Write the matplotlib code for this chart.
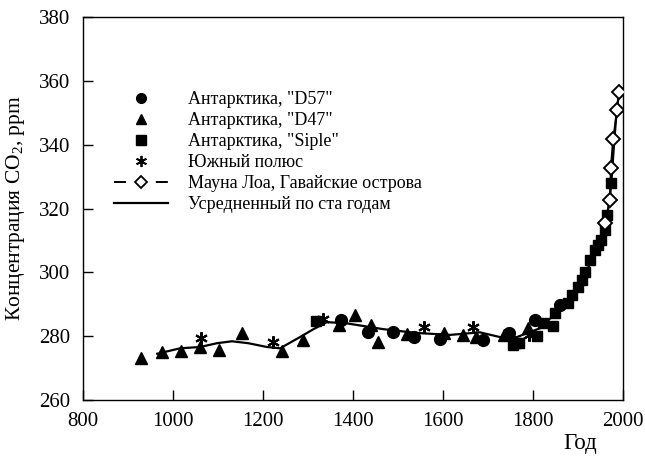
import matplotlib
matplotlib.use("Agg")
import matplotlib.pyplot as plt
from matplotlib.lines import Line2D

plt.rcParams['font.family'] = ['Liberation Serif', 'DejaVu Serif']
plt.rcParams['mathtext.fontset'] = 'custom'
plt.rcParams['mathtext.rm'] = 'Liberation Serif'
plt.rcParams['mathtext.it'] = 'Liberation Serif:italic'

# ---- data ----
d57_year = [1373, 1433, 1489, 1536, 1593, 1689, 1747, 1804, 1860]
d57_co2 = [285.0, 281.3, 281.3, 279.7, 279.1, 278.7, 281.0, 285.0, 289.7]

d47_year = [929, 976, 1018, 1060, 1102, 1153, 1242, 1289, 1369, 1404, 1440,
            1456, 1520, 1602, 1644, 1673, 1736, 1789]
d47_co2 = [273.1, 275.0, 275.3, 276.6, 275.8, 281.0, 275.2, 278.8, 283.6, 286.6,
           283.4, 278.1, 280.6, 280.9, 280.3, 279.7, 280.3, 282.5]

siple_year = [1318, 1756, 1762, 1769, 1809, 1822, 1844, 1849, 1878, 1887, 1900,
              1909, 1916, 1927, 1938, 1944, 1951, 1960, 1964, 1973]
siple_co2 = [284.8, 277.2, 277.8, 277.8, 280.0, 284.0, 283.1, 287.2, 290.4, 292.8,
             295.4, 297.5, 300.0, 303.8, 307.0, 308.5, 310.0, 313.3, 318.0, 328.0]

sp_year = [1062, 1222, 1334, 1558, 1667, 1791]
sp_co2 = [279.4, 278.1, 285.3, 282.8, 282.8, 280.3]

ml_year = [1960, 1971, 1973, 1978, 1987, 1991]
ml_co2 = [315.4, 322.6, 332.7, 341.7, 350.8, 356.5]

avg_year = [965, 1016, 1060, 1098, 1131, 1167, 1209, 1238, 1282, 1311, 1342,
            1387, 1467, 1542, 1616, 1682, 1727, 1764, 1816, 1860, 1900, 1930,
            1950, 1960, 1970, 1975, 1980, 1985, 1991]
avg_co2 = [274.5, 276.2, 276.6, 277.8, 278.4, 277.8, 276.6, 276.2, 279.7, 282.1,
           284.4, 284.0, 282.2, 281.0, 280.4, 281.2, 279.7, 279.7, 282.5, 288.5,
           295.5, 303.5, 310.0, 315.0, 322.0, 330.0, 340.0, 349.0, 356.5]

labels = ['Антарктика, "D57"', 'Антарктика, "D47"', 'Антарктика, "Siple"',
          'Южный полюс', 'Мауна Лоа, Гавайские острова', 'Усредненный по ста годам']
xticks = [800, 1000, 1200, 1400, 1600, 1800, 2000]
yticks = [260, 280, 300, 320, 340, 360, 380]

fig = plt.figure(figsize=(6.45, 4.57), dpi=100)
ax = fig.add_axes([83/645, 1-400/457, 540/645, 383/457])

ax.plot(avg_year, avg_co2, '-', color='black', lw=1.6, zorder=2)
ax.plot(ml_year, ml_co2, '-', color='black', lw=1.4, zorder=2)
ax.plot(d47_year, d47_co2, '^', color='black', ms=8, ls='none', zorder=3)
ax.plot(siple_year, siple_co2, 's', color='black', ms=7.5, ls='none', zorder=3)
ax.plot(d57_year, d57_co2, 'o', color='black', ms=8.5, ls='none', zorder=3)
ax.plot(sp_year, sp_co2, marker=(6, 2, 0), color='black', ms=9, mew=1.5, ls='none', zorder=4)
ax.plot(ml_year, ml_co2, 'D', mfc='white', mec='black', mew=1.4, ms=7, ls='none', zorder=5)

ax.set_xlim(800, 2000)
ax.set_ylim(260, 380)
ax.set_xticks(xticks)
ax.set_yticks(yticks)
ax.tick_params(direction='in', length=7, width=1, labelsize=15, pad=9)
for s in ax.spines.values():
    s.set_linewidth(1.0)

ax.set_ylabel('Концентрация CO$_2$, ppm', fontsize=15.5)
ax.yaxis.set_label_coords(-0.103, 0.5)
ax.set_xlabel('Год', fontsize=16.5)
ax.xaxis.set_label_coords(0.92, -0.085)

handles = [
    Line2D([], [], marker='o', color='black', ls='none', ms=7),
    Line2D([], [], marker='^', color='black', ls='none', ms=7),
    Line2D([], [], marker='s', color='black', ls='none', ms=6.5),
    Line2D([], [], marker=(6, 2, 0), color='black', ls='none', ms=8, mew=1.3),
    Line2D([], [], marker='D', mfc='white', mec='black', mew=1.3, ms=6, color='black',
           lw=1.4, ls=(0, (6.2, 15.3))),
    Line2D([], [], color='black', lw=1.6),
]
leg = ax.legend(handles, labels, loc='upper left', bbox_to_anchor=(0.057, 0.806),
                frameon=False, fontsize=13, handlelength=3.0, handletextpad=1.1,
                labelspacing=0.22, borderpad=0, borderaxespad=0, numpoints=1)

fig.savefig('out.png', dpi=100)
